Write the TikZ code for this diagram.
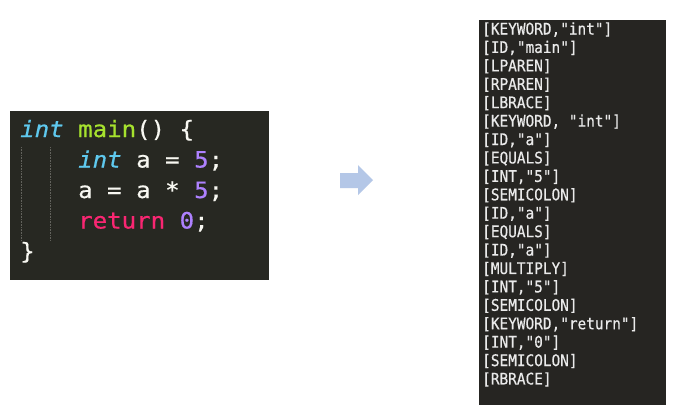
\documentclass[tikz,border=0pt]{standalone}
\usepackage{fontspec}
\setmonofont{DejaVu Sans Mono}
\newfontfamily\codefont{DejaVu Sans Mono}[FakeStretch=1.07, FakeBold=0.5]
\newfontfamily\tokfont{DejaVu Sans Mono}[FakeStretch=0.9, FakeBold=0.5, Ligatures=ResetAll]
\definecolor{codebg}{HTML}{272822}
\definecolor{tokbg}{HTML}{262522}
\definecolor{kwblue}{HTML}{5FC9EE}
\definecolor{fngreen}{HTML}{A6E22E}
\definecolor{numpurple}{HTML}{AE81FF}
\definecolor{retpink}{HTML}{F92672}
\definecolor{codefg}{HTML}{F8F8F2}
\definecolor{tokfg}{HTML}{EAEAEA}
\definecolor{arrowblue}{HTML}{B4C7E7}
\definecolor{guide}{HTML}{62625C}
\tikzset{
  panel/.style={draw=none, inner sep=0pt, anchor=north west},
  codeline/.style={anchor=base west, inner sep=0pt, text=codefg, font=\codefont\fontsize{22.5}{22.5}\selectfont},
  tokline/.style={anchor=base west, inner sep=0pt, text=tokfg, font=\tokfont\fontsize{16}{16}\selectfont},
  guideline/.style={draw=guide, line width=0.9pt, dash pattern=on 0.8pt off 0.8pt},
  blockarrow/.style={fill=arrowblue, draw=none}
}
\begin{document}
\begin{tikzpicture}[x=1pt,y=-1pt]
\useasboundingbox[fill=white] (0,0) rectangle (679,408);
% code panel
\node[panel, fill=codebg, minimum width=259pt, minimum height=169pt] (codebox) at (10,111) {};
\coordinate (g1top) at (21.5,147);
\coordinate (g1bot) at (21.5,240);
\coordinate (g2top) at (50,147);
\coordinate (g2bot) at (50,240);
\draw[guideline] (g1top) -- (g1bot);
\draw[guideline] (g2top) -- (g2bot);
\node[codeline] (c1) at (20,137) {\textcolor{kwblue}{\itshape int} \textcolor{fngreen}{main}() \{};
\node[codeline] (c2) at (78,167.5) {\textcolor{kwblue}{\itshape int} a = \textcolor{numpurple}{5};};
\node[codeline] (c3) at (78,198) {a = a * \textcolor{numpurple}{5};};
\node[codeline] (c4) at (78,228.5) {\textcolor{retpink}{return} \textcolor{numpurple}{0};};
\node[codeline] (c5) at (20,259) {\}};
% arrow
\fill[blockarrow] (340,173) -- (358,173) -- (358,165) -- (373,180) -- (358,195) -- (358,188) -- (340,188) -- cycle;
% token panel
\node[panel, fill=tokbg, minimum width=187pt, minimum height=385pt] (tokbox) at (479,20) {};
\foreach \t [count=\i from 0] in {
  {[KEYWORD,"int"]},
  {[ID,"main"]},
  {[LPAREN]},
  {[RPAREN]},
  {[LBRACE]},
  {[KEYWORD, "int"]},
  {[ID,"a"]},
  {[EQUALS]},
  {[INT,"5"]},
  {[SEMICOLON]},
  {[ID,"a"]},
  {[EQUALS]},
  {[ID,"a"]},
  {[MULTIPLY]},
  {[INT,"5"]},
  {[SEMICOLON]},
  {[KEYWORD,"return"]},
  {[INT,"0"]},
  {[SEMICOLON]},
  {[RBRACE]}
}{
  \node[tokline] (t\i) at (482,34.5+18.42*\i) {\t};
}
\end{tikzpicture}
\end{document}
